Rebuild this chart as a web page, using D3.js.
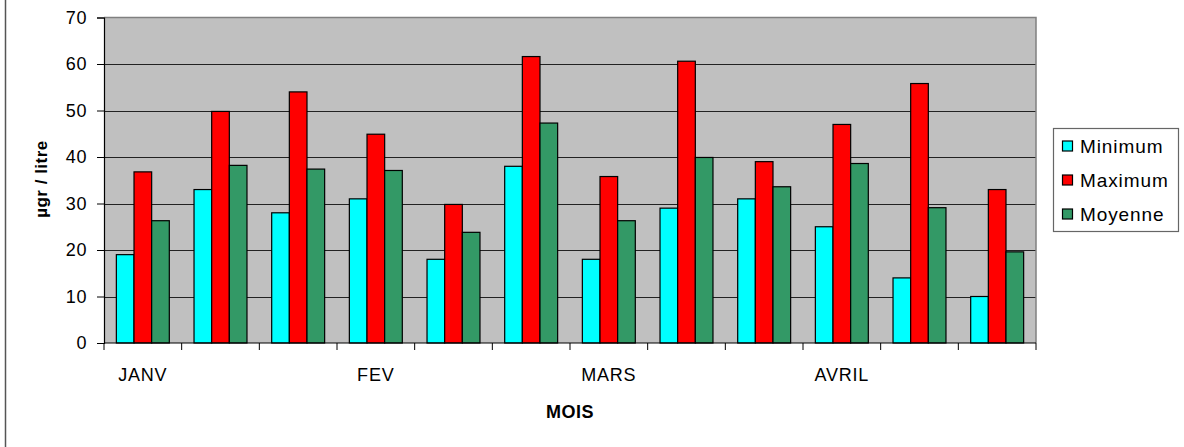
<!DOCTYPE html>
<html>
<head>
<meta charset="utf-8">
<script src="https://cdn.jsdelivr.net/npm/d3@7"></script>
<style>
  html, body { margin: 0; padding: 0; background: #fff; }
  svg { display: block; font-family: "Liberation Sans", Arial, sans-serif; }
</style>
</head>
<body>
<svg id="chart" width="1184" height="447"></svg>
<script>
// ---- data ----
const periodLabels = ["JANV", "", "", "FEV", "", "", "MARS", "", "", "AVRIL", "", ""];
const seriesNames = ["Minimum", "Maximum", "Moyenne"];
const minimum = [19, 33, 28, 31, 18, 38, 18, 29, 31, 25, 14, 10];
const maximum = [36.8, 49.8, 54, 44.9, 29.8, 61.6, 35.8, 60.6, 39, 47, 55.8, 33];
const moyenne = [26.3, 38.2, 37.4, 37.1, 23.8, 47.3, 26.3, 39.9, 33.6, 38.6, 29.1, 19.6];
const yTicks = [0, 10, 20, 30, 40, 50, 60, 70];
const colors = ["#00FFFF", "#FF0000", "#339966"];

const seriesValues = [minimum, maximum, moyenne];
const table = periodLabels.map((lab, i) => ({
  idx: i, label: lab,
  values: seriesNames.map((s, k) => ({ series: s, value: seriesValues[k][i] }))
}));

// ---- layout ----
const svg = d3.select("#chart");
const pLeft = 104, pRight = 1036, pTop = 17.5, pBottom = 343;

const x0 = d3.scaleBand().domain(d3.range(periodLabels.length)).range([pLeft, pRight]).padding(0);
const x1 = d3.scaleBand().domain(seriesNames).range([0, x0.bandwidth()]).paddingInner(0).paddingOuter(0.7);
const y = d3.scaleLinear().domain([0, 70]).range([pBottom, pTop]);
const color = d3.scaleOrdinal().domain(seriesNames).range(colors);

// outer frame (left edge visible)
svg.append("line").attr("x1", 5.5).attr("x2", 5.5).attr("y1", 0).attr("y2", 447)
  .attr("stroke", "#555").attr("stroke-width", 1.5);

// plot background
svg.append("rect").attr("x", pLeft).attr("y", pTop).attr("width", pRight - pLeft).attr("height", pBottom - pTop)
  .attr("fill", "#C0C0C0");

// gridlines
svg.append("g").selectAll("line").data(yTicks.filter(t => t > 0 && t < 70)).join("line")
  .attr("x1", pLeft).attr("x2", pRight)
  .attr("y1", d => Math.round(y(d)) + 0.5).attr("y2", d => Math.round(y(d)) + 0.5)
  .attr("stroke", "#222").attr("stroke-width", 1);

// plot border top/right (gray)
svg.append("path")
  .attr("d", `M${pLeft},${pTop}H${pRight}V${pBottom}`)
  .attr("fill", "none").attr("stroke", "#808080").attr("stroke-width", 1.5);

// bars
const groups = svg.append("g").selectAll("g").data(table).join("g")
  .attr("transform", d => `translate(${x0(d.idx)},0)`);
groups.selectAll("rect").data(d => d.values).join("rect")
  .attr("x", d => x1(d.series))
  .attr("y", d => y(d.value))
  .attr("width", x1.bandwidth())
  .attr("height", d => y(0) - y(d.value))
  .attr("fill", d => color(d.series))
  .attr("stroke", "#000").attr("stroke-width", 1.2);

// y axis
const yAxis = d3.axisLeft(y).tickValues(yTicks).tickSize(7).tickPadding(10).tickFormat(d3.format("d"));
const gy = svg.append("g").attr("transform", `translate(${pLeft},0)`).call(yAxis);
gy.select(".domain").attr("stroke", "#000").attr("stroke-width", 1.2);
gy.selectAll(".tick line").attr("stroke", "#000");
gy.selectAll(".tick text").attr("font-size", 18).attr("fill", "#000")
  .attr("font-family", "Liberation Sans, Arial, sans-serif").style("letter-spacing", "0.6px");

// x axis (ticks at group boundaries)
const boundaries = d3.range(periodLabels.length + 1).map(i => pLeft + i * x0.step());
const gx = svg.append("g");
gx.append("line").attr("x1", pLeft).attr("x2", pRight).attr("y1", pBottom).attr("y2", pBottom)
  .attr("stroke", "#000").attr("stroke-width", 1.2);
gx.selectAll("line.tk").data(boundaries).join("line").attr("class", "tk")
  .attr("x1", d => d).attr("x2", d => d).attr("y1", pBottom).attr("y2", pBottom + 7)
  .attr("stroke", "#000");
gx.selectAll("text").data(table.filter(d => d.label)).join("text")
  .attr("x", d => x0(d.idx) + x0.bandwidth() / 2)
  .attr("y", 381)
  .attr("text-anchor", "middle")
  .attr("font-size", 18).style("letter-spacing", "0.8px")
  .text(d => d.label);

// axis titles
svg.append("text").attr("x", 570).attr("y", 418).attr("text-anchor", "middle")
  .attr("font-size", 18).attr("font-weight", "bold").style("letter-spacing", "0.5px").text("MOIS");
svg.append("text").attr("transform", "translate(47,179) rotate(-90)").attr("text-anchor", "middle")
  .attr("font-size", 17).attr("font-weight", "bold").style("letter-spacing", "0.5px").text("µgr / litre");

// legend
const lg = svg.append("g");
lg.append("rect").attr("x", 1053.5).attr("y", 128.5).attr("width", 125).attr("height", 103)
  .attr("fill", "#fff").attr("stroke", "#666").attr("stroke-width", 1.2);
const rowY = [146, 180, 214];
const items = lg.selectAll("g.it").data(seriesNames).join("g").attr("class", "it")
  .attr("transform", (d, i) => `translate(0,${rowY[i]})`);
items.append("rect").attr("x", 1062.5).attr("y", -5).attr("width", 10).attr("height", 10)
  .attr("fill", d => color(d)).attr("stroke", "#000").attr("stroke-width", 1.2);
items.append("text").attr("x", 1080).attr("y", 0).attr("dy", "0.36em")
  .attr("font-size", 19).style("letter-spacing", "0.9px").text(d => d);
</script>
</body>
</html>
